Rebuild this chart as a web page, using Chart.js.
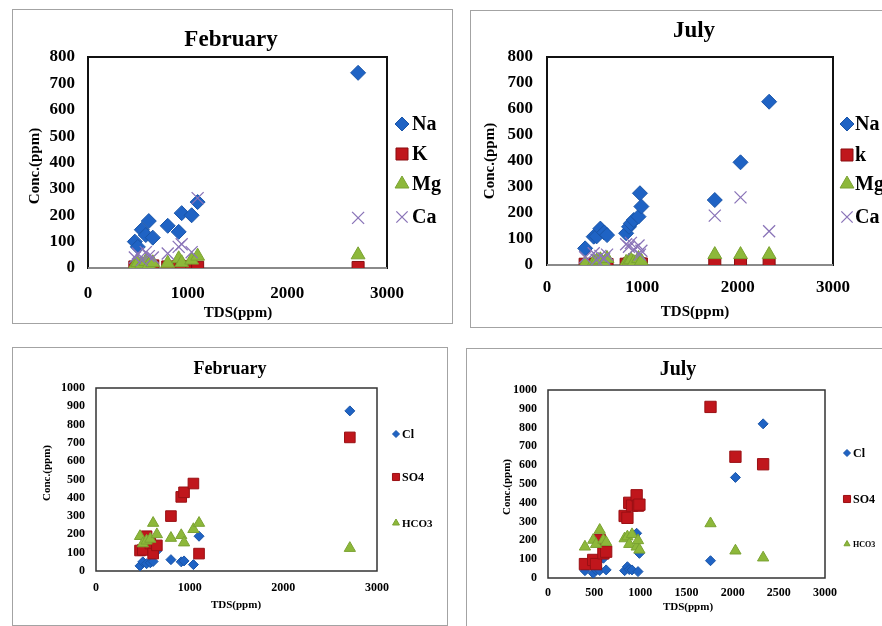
<!DOCTYPE html>
<html>
<head>
<meta charset="utf-8">
<script src="https://cdn.jsdelivr.net/npm/chart.js@4.4.0/dist/chart.umd.min.js"></script>
<style>
    html, body { margin: 0; padding: 0; background: #fff; width: 882px; height: 626px; overflow: hidden; }
    .frame { position: absolute; border: 1px solid #a3a3a3; box-sizing: border-box; }
    canvas { position: absolute; }
</style>
</head>
<body>
<div class="frame" style="left:12px;top:9px;width:441px;height:315px"></div>
<canvas id="febCations" width="440" height="314" style="left:12px;top:9px"></canvas>

<div class="frame" style="left:470px;top:10px;width:430px;height:318px"></div>
<canvas id="julCations" width="412" height="317" style="left:470px;top:10px"></canvas>

<div class="frame" style="left:12px;top:347px;width:436px;height:279px"></div>
<canvas id="febAnions" width="435" height="278" style="left:12px;top:347px"></canvas>

<div class="frame" style="left:466px;top:348px;width:430px;height:290px"></div>
<canvas id="julAnions" width="416" height="278" style="left:466px;top:348px"></canvas>

<script>
// February samples
const febTds  = [470, 500, 540, 580, 610, 650, 800, 910, 940, 1040, 1100, 2710];
const febNa   = [100, 80, 145, 125, 178, 115, 160, 137, 208, 200, 250, 740];
const febK    = [4, 3, 6, 4, 5, 8, 4, 5, 6, 4, 3, 2];
const febMg   = [10, 20, 15, 25, 12, 20, 18, 35, 20, 30, 45, 50];
const febCa   = [40, 55, 30, 60, 45, 40, 55, 80, 90, 60, 265, 190];
const febCl   = [28, 50, 40, 45, 52, 110, 62, 50, 55, 35, 190, 875];
const febSO4  = [112, 115, 190, 150, 95, 140, 300, 405, 430, 478, 95, 730];
const febHCO3 = [190, 150, 165, 175, 262, 200, 180, 195, 155, 228, 262, 125];

// July samples
const julTds  = [400, 490, 520, 560, 600, 630, 830, 860, 880, 910, 960, 975, 990, 1760, 2030, 2330];
const julNa   = [64, 109, 110, 140, 125, 115, 122, 147, 160, 173, 186, 276, 225, 250, 395, 628];
const julK    = [3, 2, 4, 3, 5, 2, 3, 4, 2, 3, 5, 3, 4, 2, 3, 2];
const julMg   = [5, 10, 15, 20, 8, 25, 10, 15, 20, 10, 25, 5, 15, 40, 40, 40];
const julCa   = [30, 45, 20, 35, 25, 40, 80, 70, 85, 60, 75, 40, 55, 190, 260, 130];
const julCl   = [39, 25, 43, 40, 105, 43, 39, 60, 45, 43, 238, 34, 131, 92, 535, 820];
const julSO4  = [74, 96, 74, 202, 131, 140, 330, 320, 400, 385, 440, 385, 390, 910, 645, 605];
const julHCO3 = [166, 202, 180, 255, 202, 190, 210, 220, 180, 232, 166, 200, 150, 290, 145, 108];

// tick labels
const xTicksWide = [0, 1000, 2000, 3000];
const xTicksFine = [0, 500, 1000, 1500, 2000, 2500, 3000];
const yTicksCation = [0, 100, 200, 300, 400, 500, 600, 700, 800];
const yTicksAnion = [0, 100, 200, 300, 400, 500, 600, 700, 800, 900, 1000];

const SERIF = '"Liberation Serif", "Times New Roman", serif';
const BLUE = '#1f63c4', RED = '#c0161c', GREEN = '#8db83a', PURPLE = '#8a74b8';

const pts = (xs, ys) => xs.map((x, i) => ({ x: x, y: ys[i] }));

// box, titles and legend
const deco = {
    id: 'deco',
    beforeDatasetsDraw(chart, args, o) {
        const ctx = chart.ctx, a = chart.chartArea;
        ctx.save();
        ctx.strokeStyle = o.boxColor;
        ctx.lineWidth = o.boxWidth;
        ctx.strokeRect(a.left, a.top, a.right - a.left, a.bottom - a.top);
        if (o.baseColor) {
            ctx.strokeStyle = o.baseColor;
            ctx.beginPath();
            ctx.moveTo(a.left, a.bottom);
            ctx.lineTo(a.right, a.bottom);
            ctx.stroke();
        }
        ctx.restore();
    },
    afterDraw(chart, args, o) {
        const ctx = chart.ctx;
        ctx.save();
        ctx.fillStyle = '#000';
        ctx.textAlign = 'center';
        ctx.textBaseline = 'middle';
        ctx.font = 'bold ' + o.titleSize + 'px ' + SERIF;
        ctx.fillText(o.title, o.titleX, o.titleY);
        ctx.font = 'bold ' + o.axisSize + 'px ' + SERIF;
        ctx.fillText('TDS(ppm)', o.xTitleX, o.xTitleY);
        ctx.save();
        ctx.translate(o.yTitleX, o.yTitleY);
        ctx.rotate(-Math.PI / 2);
        ctx.fillText('Conc.(ppm)', 0, 0);
        ctx.restore();

        chart.data.datasets.forEach((ds, i) => {
            const it = o.legend[i];
            ctx.fillStyle = ds.backgroundColor;
            ctx.strokeStyle = ds.borderColor;
            ctx.lineWidth = ds.borderWidth;
            Chart.helpers.drawPoint(ctx, {
                pointStyle: ds.pointStyle, radius: it.r, rotation: 0, borderWidth: ds.borderWidth
            }, o.legendX, it.y);
            ctx.fillStyle = '#000';
            ctx.textAlign = 'left';
            ctx.font = 'bold ' + it.size + 'px ' + SERIF;
            ctx.fillText(ds.label, o.legendX + o.legendGap, it.y + 1);
        });
        ctx.restore();
    }
};

function panel(id, o) {
    const n = o.series.length;
    const tickFont = { family: SERIF, size: o.tickSize, weight: 'bold' };
    new Chart(document.getElementById(id), {
        type: 'scatter',
        data: {
            datasets: o.series.map((s, i) => ({
                label: s.label,
                data: pts(o.tds, s.values),
                pointStyle: s.style,
                pointRadius: s.r,
                pointHoverRadius: s.r,
                backgroundColor: s.color,
                borderColor: s.border,
                borderWidth: s.bw,
                order: n - i
            }))
        },
        options: {
            responsive: false,
            animation: false,
            devicePixelRatio: 1,
            layout: { padding: o.pad },
            plugins: {
                legend: { display: false },
                tooltip: { enabled: false },
                deco: o.deco
            },
            scales: {
                x: {
                    type: 'linear', min: 0, max: 3000,
                    afterBuildTicks: ax => { ax.ticks = o.xTicks.map(v => ({ value: v })); },
                    afterFit: ax => { ax.height = o.xH; },
                    grid: { display: false, drawTicks: false },
                    border: { display: false },
                    ticks: { padding: o.xPad, color: '#000', maxRotation: 0, autoSkip: false,
                             font: tickFont, callback: v => String(v) }
                },
                y: {
                    type: 'linear', min: 0, max: o.yMax,
                    afterBuildTicks: ax => { ax.ticks = o.yTicks.map(v => ({ value: v })); },
                    afterFit: ax => { ax.width = o.yW; },
                    grid: { display: false, drawTicks: false },
                    border: { display: false },
                    ticks: { padding: o.yPad, color: '#000', autoSkip: false,
                             font: tickFont, callback: v => String(v) }
                }
            }
        },
        plugins: [deco]
    });
}

const cationSeries = (na, k, mg, ca, kLabel) => [
    { label: 'Na', values: na, style: 'rectRot', r: 7.5, color: BLUE, border: '#1a55a8', bw: 1 },
    { label: kLabel, values: k, style: 'rect', r: 8.5, color: RED, border: '#8a0d10', bw: 1 },
    { label: 'Mg', values: mg, style: 'triangle', r: 8, color: GREEN, border: '#7aa232', bw: 1 },
    { label: 'Ca', values: ca, style: 'crossRot', r: 8.5, color: PURPLE, border: PURPLE, bw: 1.3 }
];

const anionSeries = (cl, so4, hco3, sq) => [
    { label: 'Cl', values: cl, style: 'rectRot', r: 5, color: BLUE, border: '#1a55a8', bw: 1 },
    { label: 'SO4', values: so4, style: 'rect', r: sq, color: RED, border: '#9a1014', bw: 1 },
    { label: 'HCO3', values: hco3, style: 'triangle', r: 6.5, color: GREEN, border: '#7aa232', bw: 1 }
];

panel('febCations', {
    tds: febTds, series: cationSeries(febNa, febK, febMg, febCa, 'K'),
    xTicks: xTicksWide, yTicks: yTicksCation, yMax: 800,
    pad: { left: 10, top: 48, right: 65, bottom: 0 }, yW: 66, xH: 55, xPad: 15, yPad: 13, tickSize: 17,
    deco: {
        boxColor: '#111', boxWidth: 2, baseColor: '#8a8a8a',
        title: 'February', titleSize: 23, titleX: 219, titleY: 31,
        axisSize: 15, xTitleX: 226, xTitleY: 304, yTitleX: 23, yTitleY: 157,
        legendX: 390, legendGap: 10,
        legend: [{ y: 115, r: 7, size: 20 }, { y: 145, r: 8.5, size: 20 }, { y: 175, r: 8, size: 20 }, { y: 208, r: 8, size: 20 }]
    }
});

panel('julCations', {
    tds: julTds, series: cationSeries(julNa, julK, julMg, julCa, 'k'),
    xTicks: xTicksWide, yTicks: yTicksCation, yMax: 800,
    pad: { left: 10, top: 47, right: 49, bottom: 0 }, yW: 67, xH: 62, xPad: 12, yPad: 14, tickSize: 17,
    deco: {
        boxColor: '#111', boxWidth: 2, baseColor: '#8a8a8a',
        title: 'July', titleSize: 23, titleX: 224, titleY: 21,
        axisSize: 15, xTitleX: 225, xTitleY: 302, yTitleX: 20, yTitleY: 151,
        legendX: 377, legendGap: 8,
        legend: [{ y: 114, r: 7, size: 20 }, { y: 145, r: 8.5, size: 20 }, { y: 174, r: 8, size: 20 }, { y: 207, r: 8, size: 20 }]
    }
});

panel('febAnions', {
    tds: febTds, series: anionSeries(febCl, febSO4, febHCO3, 7.5),
    xTicks: xTicksWide, yTicks: yTicksAnion, yMax: 1000,
    pad: { left: 10, top: 41, right: 70, bottom: 0 }, yW: 74, xH: 54, xPad: 10, yPad: 11, tickSize: 12,
    deco: {
        boxColor: '#333', boxWidth: 1.5,
        title: 'February', titleSize: 18, titleX: 218, titleY: 22,
        axisSize: 11, xTitleX: 224, xTitleY: 258, yTitleX: 35, yTitleY: 126,
        legendX: 384, legendGap: 6,
        legend: [{ y: 87, r: 3.5, size: 12 }, { y: 130, r: 5, size: 12 }, { y: 176, r: 4, size: 11 }]
    }
});

panel('julAnions', {
    tds: julTds, series: anionSeries(julCl, julSO4, julHCO3, 8),
    xTicks: xTicksFine, yTicks: yTicksAnion, yMax: 1000,
    pad: { left: 10, top: 42, right: 57, bottom: 0 }, yW: 72, xH: 48, xPad: 8, yPad: 11, tickSize: 12,
    deco: {
        boxColor: '#333', boxWidth: 1.5,
        title: 'July', titleSize: 20, titleX: 212, titleY: 22,
        axisSize: 11, xTitleX: 222, xTitleY: 259, yTitleX: 41, yTitleY: 139,
        legendX: 381, legendGap: 6,
        legend: [{ y: 105, r: 3.5, size: 12 }, { y: 151, r: 5, size: 12 }, { y: 196, r: 3.5, size: 8 }]
    }
});
</script>
</body>
</html>
